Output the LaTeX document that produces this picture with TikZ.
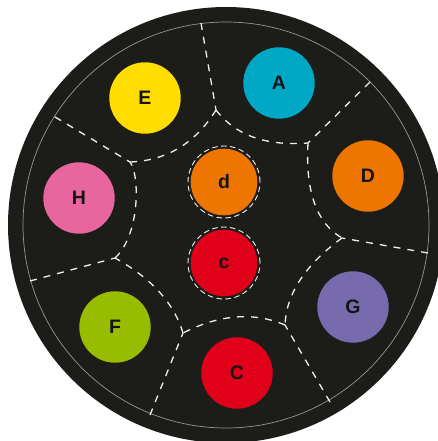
\documentclass[tikz,border=0pt]{standalone}
\usepackage{fontspec}
\setmainfont{Liberation Sans}
\definecolor{bgc}{RGB}{28,28,24}
\definecolor{ringc}{RGB}{150,150,150}
\definecolor{dashc}{RGB}{238,238,238}
\definecolor{txtc}{RGB}{20,20,20}
\definecolor{colA}{RGB}{0,168,198}
\definecolor{colD}{RGB}{238,118,0}
\definecolor{colE}{RGB}{255,221,0}
\definecolor{colH}{RGB}{232,102,158}
\definecolor{colF}{RGB}{152,188,0}
\definecolor{colG}{RGB}{119,107,174}
\definecolor{colC}{RGB}{225,0,25}
\begin{document}
\begin{tikzpicture}[x=1pt,y=-1pt,
  bdry/.style={draw=dashc, line width=1.3pt, dash pattern=on 7pt off 7pt},
  ringdash/.style={draw=dashc, line width=0.9pt, dash pattern=on 5.5pt off 3.5pt},
  disc/.style={circle, minimum size=71.4pt, inner sep=0pt, text=txtc,
    font=\fontsize{19.5}{19.5}\selectfont\bfseries},
  smalldisc/.style={disc, minimum size=66.6pt}]
\clip (0,0) rectangle (438,441);
\fill[bgc] (226,225) circle (218pt);
\draw[ringc, line width=0.7pt] (226,225) circle (203pt);
% junctions
\coordinate (J1) at (216,110);
\coordinate (J2) at (308,143);
\coordinate (J3) at (342,238);
\coordinate (J4) at (285,325);
\coordinate (J5) at (183,333);
\coordinate (J6) at (115,258);
\coordinate (J7) at (130,162);
% rim ends
\coordinate (R1) at (201,23);
\coordinate (R2) at (370,82);
\coordinate (R3) at (428,253);
\coordinate (R4) at (330,402);
\coordinate (R5) at (150,415);
\coordinate (R6) at (30,281);
\coordinate (R7) at (55,117);
% boundaries
\draw[bdry] (R1) -- (J1);
\draw[bdry] (R2) -- (J2);
\draw[bdry] (R3) -- (J3);
\draw[bdry] (R4) -- (J4);
\draw[bdry] (R5) -- (J5);
\draw[bdry] (R6) -- (J6);
\draw[bdry] (R7) -- (J7);
\draw[bdry] (J1) .. controls (195.3,143.3) and (166.7,160.7) .. (J7);
\draw[bdry] (J1) .. controls (235.3,135.3) and (266,146.3) .. (J2);
\draw[bdry] (J2) .. controls (305.3,191.7) and (316.7,223.3) .. (J3);
\draw[bdry] (J3) .. controls (305.3,264.7) and (286.3,293.7) .. (J4);
\draw[bdry] (J4) .. controls (253.7,311.7) and (219.7,314.3) .. (J5);
\draw[bdry] (J5) .. controls (174.1,303.2) and (151.4,278.2) .. (J6);
\draw[bdry] (J6) .. controls (140,235) and (140,175) .. (J7);
% discs
\node[disc, fill=colE] (E) at (145,98) {E};
\node[disc, fill=colA] (A) at (279,83) {A};
\node[disc, fill=colD] (D) at (368,176) {D};
\node[disc, fill=colH] (H) at (79,198) {H};
\node[disc, fill=colG] (G) at (353,307) {G};
\node[disc, fill=colF] (F) at (115,327) {F};
\node[disc, fill=colC] (C) at (237,373) {C};
\node[smalldisc, fill=colD] (d) at (224,182) {d};
\node[smalldisc, fill=colC] (c) at (224,263) {c};
\draw[ringdash] (d.center) circle (36pt);
\draw[ringdash] (c.center) circle (36pt);
\end{tikzpicture}
\end{document}
